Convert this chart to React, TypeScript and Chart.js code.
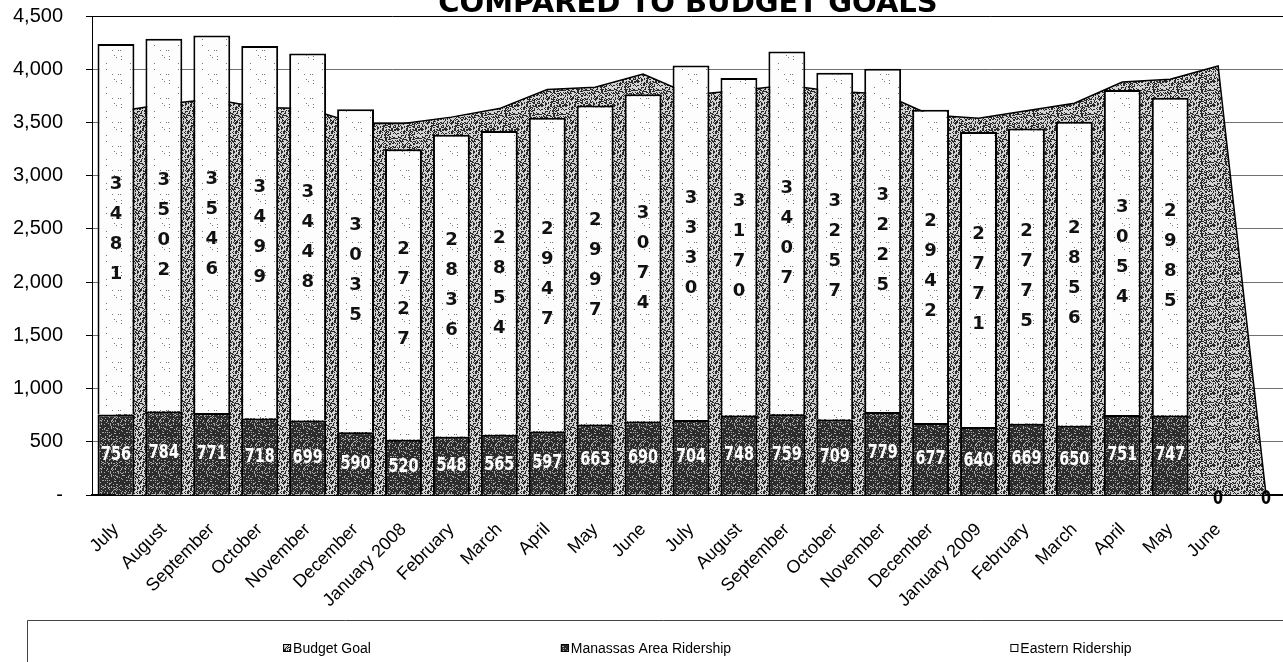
import React, { useEffect, useRef } from "react";
import { Chart, registerables } from "chart.js";

Chart.register(...registerables);

const categories = [
  "July", "August", "September", "October", "November", "December",
  "January 2008", "February", "March", "April", "May", "June",
  "July", "August", "September", "October", "November", "December",
  "January 2009", "February", "March", "April", "May", "June", "",
];
const manassasRidership = [756, 784, 771, 718, 699, 590, 520, 548, 565, 597, 663, 690, 704, 748, 759, 709, 779, 677, 640, 669, 650, 751, 747, 0];
const easternRidership = [3481, 3502, 3546, 3499, 3448, 3035, 2727, 2836, 2854, 2947, 2997, 3074, 3330, 3170, 3407, 3257, 3225, 2942, 2771, 2775, 2856, 3054, 2985, 0];
const budgetGoal = [3600, 3670, 3720, 3640, 3630, 3490, 3490, 3550, 3630, 3810, 3830, 3955, 3760, 3800, 3850, 3790, 3770, 3570, 3540, 3610, 3680, 3880, 3905, 4030, 0];
const seriesNames = ["Budget Goal", "Manassas Area Ridership", "Eastern Ridership"];
const titleText = "COMPARED TO BUDGET GOALS";
const yMax = 4500;
const yStep = 500;

// deterministic stipple texture (visual fill only)
function makeStipple(ctx: CanvasRenderingContext2D, size: number, density: number, salt: number, on: string, off: string) {
  const c = document.createElement("canvas");
  c.width = size;
  c.height = size;
  const g = c.getContext("2d")!;
  g.fillStyle = off;
  g.fillRect(0, 0, size, size);
  g.fillStyle = on;
  for (let y = 0; y < size; y++) {
    for (let x = 0; x < size; x++) {
      let h = Math.imul(x + 1, 73856093) ^ Math.imul(y + 1, 19349663) ^ Math.imul(salt, 83492791);
      h = Math.imul(h ^ (h >>> 13), 1274126177);
      h = (h ^ (h >>> 16)) >>> 0;
      if ((h % 1000) / 1000 < density) g.fillRect(x, y, 1, 1);
    }
  }
  return ctx.createPattern(c, "repeat") as CanvasPattern;
}

export default function App() {
  const ref = useRef<HTMLCanvasElement>(null);

  useEffect(() => {
    const canvas = ref.current!;
    const ctx = canvas.getContext("2d")!;

    const areaPat = makeStipple(ctx, 24, 0.45, 3, "#2a2a2a", "#d4d4d4");
    const darkPat = makeStipple(ctx, 24, 0.2, 7, "#a8a8a8", "#2c2c2c");
    const lightPat = makeStipple(ctx, 24, 0.035, 11, "#777777", "#fdfdfd");
    const fills = [areaPat, darkPat, lightPat];

    const cond = '"DejaVu Sans Condensed", "DejaVu Sans", sans-serif';

    const decorPlugin = {
      id: "decor",
      afterDatasetsDraw(chart: any) {
        const c = chart.ctx as CanvasRenderingContext2D;
        const drawNarrow = (t: string, x: number, y: number, color: string) => {
          c.save();
          c.translate(x, y);
          c.scale(0.8, 1);
          c.fillStyle = color;
          c.font = `bold 20px ${cond}`;
          c.textAlign = "center";
          c.textBaseline = "middle";
          c.fillText(t, 0, 0);
          c.restore();
        };
        // Manassas labels
        const mMeta = chart.getDatasetMeta(1);
        mMeta.data.forEach((el: any, i: number) => {
          const v = manassasRidership[i];
          if (v === 0) drawNarrow("0", el.x, el.base + 4, "#000");
          else drawNarrow(v.toLocaleString("en-US"), el.x, (el.y + el.base) / 2, "#fff");
        });
        // Eastern labels (vertical digits)
        const eMeta = chart.getDatasetMeta(2);
        c.save();
        eMeta.data.forEach((el: any, i: number) => {
          const v = easternRidership[i];
          if (v === 0) return;
          const digits = String(v).split("");
          const lh = 30;
          const cy = (el.y + el.base) / 2;
          c.fillStyle = "#111";
          c.font = 'bold 18px "DejaVu Sans", sans-serif';
          c.textAlign = "center";
          c.textBaseline = "middle";
          digits.forEach((d, k) => {
            c.fillText(d, el.x, cy + (k - (digits.length - 1) / 2) * lh);
          });
        });
        c.restore();
        // Budget goal last point label
        const bMeta = chart.getDatasetMeta(0);
        const last = budgetGoal.length - 1;
        const p = bMeta.data[last];
        if (p && budgetGoal[last] === 0) drawNarrow("0", p.x, p.y + 4, "#000");
      },
      afterDraw(chart: any) {
        const c = chart.ctx as CanvasRenderingContext2D;
        c.save();
        // Title (cut off at top)
        c.fillStyle = "#000";
        c.font = 'bold 29px "DejaVu Sans", sans-serif';
        c.textAlign = "center";
        c.textBaseline = "alphabetic";
        c.fillText(titleText, 688, 12);
        // Legend box
        c.strokeStyle = "#444";
        c.lineWidth = 1;
        c.beginPath();
        c.moveTo(27.5, 700);
        c.lineTo(27.5, 620.5);
        c.lineTo(1300, 620.5);
        c.stroke();
        // Legend items
        const centers = [327, 646, 1071];
        c.font = '14px "Liberation Sans", sans-serif';
        c.textBaseline = "middle";
        c.textAlign = "left";
        seriesNames.forEach((name, k) => {
          const tw = c.measureText(name).width;
          const total = 10 + tw;
          const x0 = centers[k] - total / 2;
          const y = 648;
          c.fillStyle = fills[k];
          c.fillRect(x0, y - 4, 8, 8);
          c.strokeStyle = "#000";
          c.lineWidth = 1;
          c.strokeRect(x0 + 0.5, y - 3.5, 7, 7);
          c.fillStyle = "#000";
          c.fillText(name, x0 + 10, y + 1);
        });
        c.restore();
      },
    };

    const chart = new Chart(ctx, {
      type: "bar",
      data: {
        labels: categories,
        datasets: [
          {
            type: "line",
            label: seriesNames[0],
            data: budgetGoal,
            stack: "goal",
            order: 2,
            fill: "origin",
            backgroundColor: areaPat,
            borderColor: "#000",
            borderWidth: 1.5,
            pointRadius: 0,
            tension: 0,
          } as any,
          {
            type: "bar",
            label: seriesNames[1],
            data: manassasRidership,
            stack: "riders",
            order: 1,
            backgroundColor: darkPat,
            borderColor: "#000",
            borderWidth: 2,
            barPercentage: 0.77,
            categoryPercentage: 1,
          },
          {
            type: "bar",
            label: seriesNames[2],
            data: easternRidership,
            stack: "riders",
            order: 1,
            backgroundColor: lightPat,
            borderColor: "#000",
            borderWidth: 2,
            barPercentage: 0.77,
            categoryPercentage: 1,
          },
        ],
      },
      options: {
        responsive: false,
        animation: false,
        devicePixelRatio: 1,
        layout: { autoPadding: false, padding: { left: 0, right: 10, top: 16, bottom: 0 } },
        plugins: {
          legend: { display: false },
          tooltip: { enabled: false },
          title: { display: false },
        },
        scales: {
          x: {
            stacked: true,
            grid: { display: false, drawTicks: false },
            border: { display: true, color: "#000", width: 2 },
            ticks: {
              autoSkip: false,
              maxRotation: 45,
              minRotation: 45,
              padding: 24,
              color: "#000",
              font: { family: '"Liberation Sans", sans-serif', size: 18 },
            },
            afterFit: (s: any) => {
              s.height = 167;
              s.paddingLeft = 0;
              s.paddingRight = 0;
            },
          },
          y: {
            stacked: true,
            min: 0,
            max: yMax,
            ticks: {
              stepSize: yStep,
              padding: 23,
              color: "#000",
              font: { family: '"Liberation Sans", sans-serif', size: 20 },
              callback: (v: any) => (Number(v) === 0 ? "-" : Number(v).toLocaleString("en-US")),
            },
            grid: {
              color: (c: any) => (c.tick && c.tick.value === yMax ? "#000" : "#707070"),
              tickColor: "#000",
              tickLength: 6,
              lineWidth: 1,
            },
            border: { display: true, color: "#000", width: 1 },
            afterFit: (s: any) => {
              s.width = 92;
              s.paddingTop = 0;
              s.paddingBottom = 0;
            },
          },
        },
      },
      plugins: [decorPlugin],
    });

    return () => chart.destroy();
  }, []);

  return (
    <div
      style={{
        position: "fixed",
        left: 0,
        top: 0,
        width: 1283,
        height: 662,
        overflow: "hidden",
        background: "#fff",
      }}
    >
      <canvas ref={ref} width={1300} height={662} style={{ display: "block", width: 1300, height: 662 }} />
    </div>
  );
}
